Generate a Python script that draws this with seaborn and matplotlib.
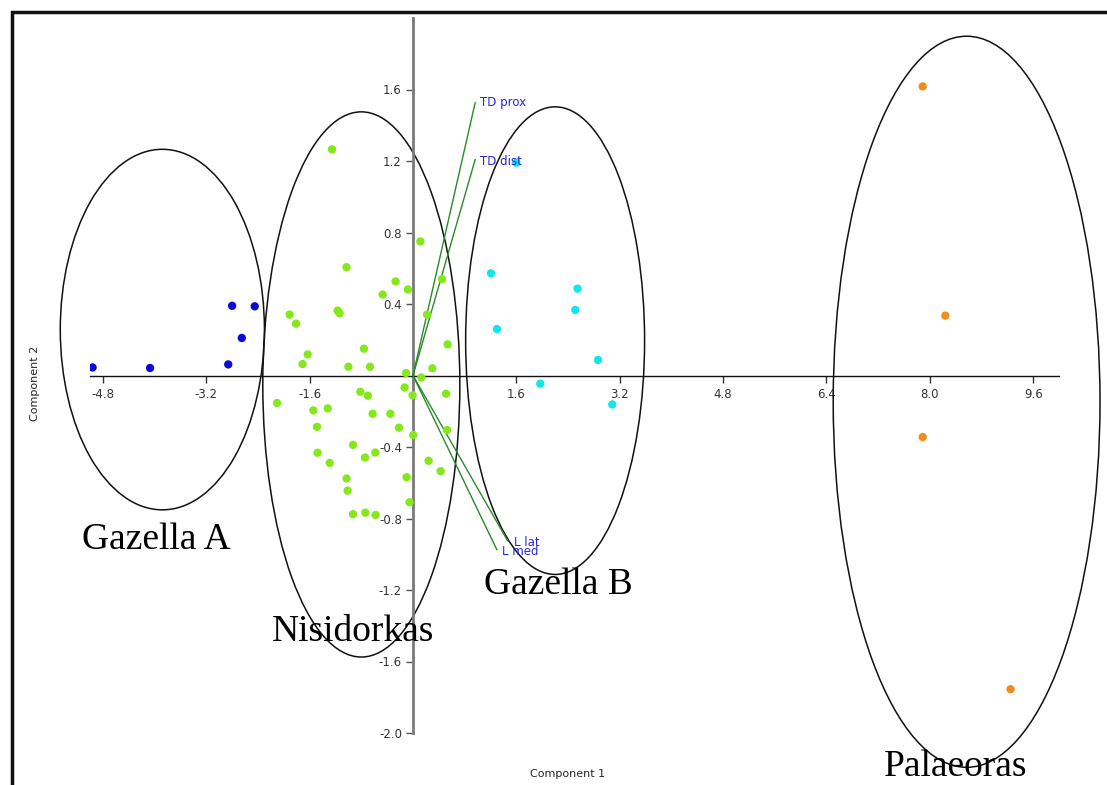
import numpy as np
import pandas as pd
import matplotlib
matplotlib.use("Agg")
import matplotlib.pyplot as plt
from matplotlib.patches import Ellipse, Rectangle
import seaborn as sns

# ---- data ----
gazA_x = [-4.96, -4.07, -2.80, -2.45, -2.65, -2.86]
gazA_y = [0.045, 0.042, 0.39, 0.387, 0.21, 0.062]

nisi_x = [-1.254, 0.113, -1.03, -0.27, -0.078, -0.47, 0.449, -1.91, -1.81, -1.167,
          -1.136, 0.217, 0.536, -1.63, -1.71, -0.76, -1.00, -0.666, 0.299, -0.108,
          0.128, -0.13, -0.006, 0.511, -0.816, -0.70, -2.105, -1.543, -1.32, -0.625,
          -0.351, -1.486, -0.217, 0.005, 0.526, -0.929, -1.477, -1.29, -0.743, -0.584,
          0.242, 0.428, -1.028, -1.012, -0.099, -0.053, -0.929, -0.738, -0.579]
nisi_y = [1.265, 0.750, 0.606, 0.526, 0.481, 0.453, 0.539, 0.341, 0.29, 0.363,
          0.348, 0.341, 0.174, 0.118, 0.064, 0.150, 0.049, 0.049, 0.040, 0.014,
          -0.011, -0.067, -0.111, -0.102, -0.091, -0.113, -0.154, -0.195, -0.184, -0.214,
          -0.214, -0.287, -0.292, -0.333, -0.305, -0.388, -0.432, -0.489, -0.459, -0.431,
          -0.477, -0.535, -0.576, -0.644, -0.569, -0.709, -0.776, -0.767, -0.780]

gazB_x = [1.207, 2.548, 2.512, 1.30, 2.864, 1.97, 3.085, 1.60]
gazB_y = [0.572, 0.486, 0.367, 0.260, 0.087, -0.046, -0.162, 1.19]

pal_x = [7.89, 8.24, 7.89, 9.25]
pal_y = [1.617, 0.335, -0.344, -1.755]

groups = ["Gazella A", "Nisidorkas", "Gazella B", "Palaeoras"]
group_colors = ["#0a0ad2", "#84e81c", "#14e6e6", "#f28c1c"]

vec_names = ["TD prox", "TD dist", "L lat", "L med"]
vec_x = [0.963, 0.963, 1.464, 1.30]
vec_y = [1.527, 1.209, -0.924, -0.976]

ell_cx = [-3.88, -0.80, 2.20, 8.57]
ell_cy = [0.257, -0.05, 0.195, -0.147]
ell_w = [3.16, 3.05, 2.77, 4.13]
ell_h = [2.017, 3.05, 2.616, 4.09]

xticks = [-4.8, -3.2, -1.6, 1.6, 3.2, 4.8, 6.4, 8.0, 9.6]
yticks = [-2.0, -1.6, -1.2, -0.8, -0.4, 0.4, 0.8, 1.2, 1.6]

df = pd.DataFrame({
    "x": gazA_x + nisi_x + gazB_x + pal_x,
    "y": gazA_y + nisi_y + gazB_y + pal_y,
    "group": ["Gazella A"] * len(gazA_x) + ["Nisidorkas"] * len(nisi_x)
             + ["Gazella B"] * len(gazB_x) + ["Palaeoras"] * len(pal_x),
})

sns.set_style("white")
plt.rcParams["font.family"] = ["DejaVu Sans"]

W, H = 1107, 785
fig = plt.figure(figsize=(W / 100, H / 100), dpi=100)
ax = fig.add_axes([90 / W, 1 - 733 / H, (1059 - 90) / W, (733 - 18) / H])

# ellipses
for cx, cy, w, h in zip(ell_cx, ell_cy, ell_w, ell_h):
    ax.add_patch(Ellipse((cx, cy), w, h, fill=False, edgecolor="#111111",
                         lw=1.1, clip_on=False, zorder=2))

# loading vectors
for name, vx, vy in zip(vec_names, vec_x, vec_y):
    ax.plot([0, vx], [0, vy], color="#2a8a2a", lw=1.0, zorder=3)
offs = {"TD prox": (5, 0), "TD dist": (5, -2), "L lat": (6, -2), "L med": (5, -2)}
for name, vx, vy in zip(vec_names, vec_x, vec_y):
    ax.annotate(name, (vx, vy), xytext=offs[name], textcoords="offset pixels",
                color="#2626d6", fontsize=8.5, ha="left", va="center", zorder=5)

sns.scatterplot(data=df, x="x", y="y", hue="group", hue_order=groups,
                palette=group_colors, s=36, edgecolor="none", legend=False,
                ax=ax, zorder=4)

ax.set_xlim(-5, 10)
ax.set_ylim(-2, 2)
ax.spines["left"].set_position(("data", 0))
ax.spines["bottom"].set_position(("data", 0))
ax.spines["top"].set_visible(False)
ax.spines["right"].set_visible(False)
ax.spines["left"].set_color("#7a7a7a")
ax.spines["left"].set_linewidth(2.0)
ax.spines["bottom"].set_color("#111111")
ax.spines["bottom"].set_linewidth(1.0)
ax.set_xticks(xticks)
ax.set_xticklabels([f"{t:.1f}" for t in xticks])
ax.set_yticks(yticks)
ax.set_yticklabels([f"{t:.1f}" for t in yticks])
ax.tick_params(axis="x", direction="out", length=5, width=1, color="#333333",
               labelsize=8.5, labelcolor="#333333", pad=4, bottom=True)
ax.tick_params(axis="y", direction="out", length=5, width=1, color="#555555",
               labelsize=8.5, labelcolor="#333333", pad=3, left=True)
ax.set_xlabel("")
ax.set_ylabel("")
ax.grid(False)
ax.set_facecolor("none")

fig.text(568 / W, 1 - 774 / H, "Component 1", ha="center", va="center",
         fontsize=8, color="#222222")
fig.text(35 / W, 1 - 383 / H, "Component 2", ha="center", va="center",
         fontsize=8, color="#222222", rotation=90)

# group labels
serif = ["Liberation Serif", "DejaVu Serif"]
labels_px = [("Gazella A", 82, 540), ("Nisidorkas", 272, 632),
             ("Gazella B", 484, 585), ("Palaeoras", 884, 767)]
for txt, px, py in labels_px:
    fig.text(px / W, 1 - py / H, txt, ha="left", va="center", fontsize=27,
             family=serif, color="#000000")

# outer frame
fig.patches.append(Rectangle((12 / W, -0.2), 1.5, 1 - 12 / H + 0.2,
                             transform=fig.transFigure, fill=False,
                             edgecolor="#111111", lw=2.5, zorder=10))

fig.savefig("out.png", dpi=100)
